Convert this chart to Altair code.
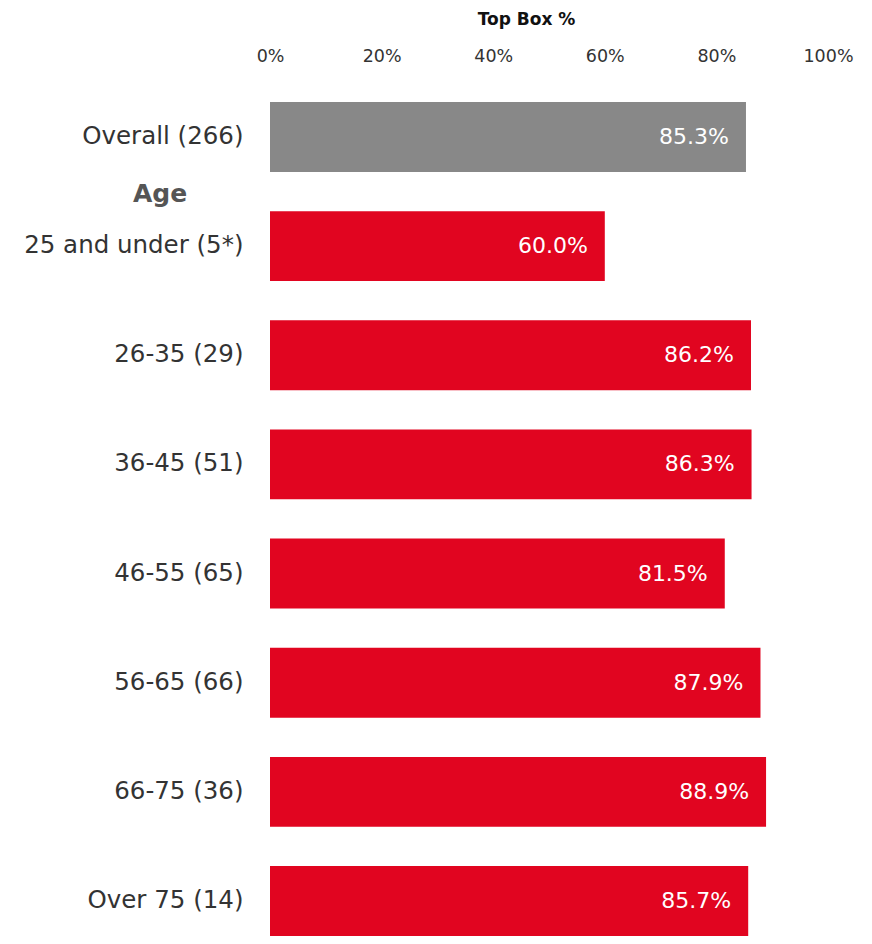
import altair as alt
import pandas as pd

categories = ["Overall (266)", "25 and under (5*)", "26-35 (29)", "36-45 (51)",
              "46-55 (65)", "56-65 (66)", "66-75 (36)", "Over 75 (14)"]
values = [85.3, 60.0, 86.2, 86.3, 81.5, 87.9, 88.9, 85.7]
groups = ["Overall", "Age", "Age", "Age", "Age", "Age", "Age", "Age"]
tick_values = [0, 20, 40, 60, 80, 100]
section_label = "Age"
section_after = "Overall (266)"

df = pd.DataFrame({"category": categories, "value": values, "group": groups})
df["label"] = df["value"].map(lambda v: f"{v:.1f}%")
sec = pd.DataFrame({"category": [section_after], "label": [section_label]})

FONT = "DejaVu Sans"

y_enc = alt.Y(
    "category:N", sort=categories,
    scale=alt.Scale(paddingInner=0.3595, paddingOuter=0.04575, align=1),
    axis=alt.Axis(title=None, labelFont=FONT, labelFontSize=24.5, labelColor="#333333",
                  labelPadding=27, ticks=False, domain=False, labelLimit=400),
)
x_enc = alt.X(
    "value:Q",
    scale=alt.Scale(domain=[0, 100], nice=False),
    axis=alt.Axis(orient="top", values=tick_values, labelExpr="datum.value + '%'",
                  title="Top Box %", titleFont=FONT, titleFontSize=17, titleFontWeight="bold",
                  titleColor="#111111", titleX=256, titlePadding=19,
                  labelFont=FONT, labelFontSize=17.5, labelColor="#333333", labelPadding=27,
                  labelOverlap=False, labelFlush=False, labelBound=False,
                  grid=False, ticks=False, domain=False),
)

bars = alt.Chart(df).mark_bar().encode(
    x=x_enc, y=y_enc,
    color=alt.Color("group:N", scale=alt.Scale(domain=["Overall", "Age"], range=["#888888", "#E10520"]), legend=None),
)

texts = alt.Chart(df).mark_text(align="right", baseline="middle", dx=-17, color="white",
                                font=FONT, fontSize=22).encode(
    x="value:Q", y=alt.Y("category:N", sort=categories), text="label:N",
)

sec_text = alt.Chart(sec).mark_text(align="center", baseline="middle", dy=57, color="#555555",
                                    font=FONT, fontSize=25, fontWeight="bold").encode(
    x=alt.value(-110), y=alt.Y("category:N", sort=categories), text="label:N",
)

chart = alt.layer(bars, texts, sec_text).properties(
    width=558, height=844,
    autosize=alt.AutoSizeParams(type="none"),
    padding={"left": 262, "top": 84, "right": 34, "bottom": 0},
).configure_view(stroke=None)

chart.save("out.html", embed_options={"renderer": "svg", "actions": False})
